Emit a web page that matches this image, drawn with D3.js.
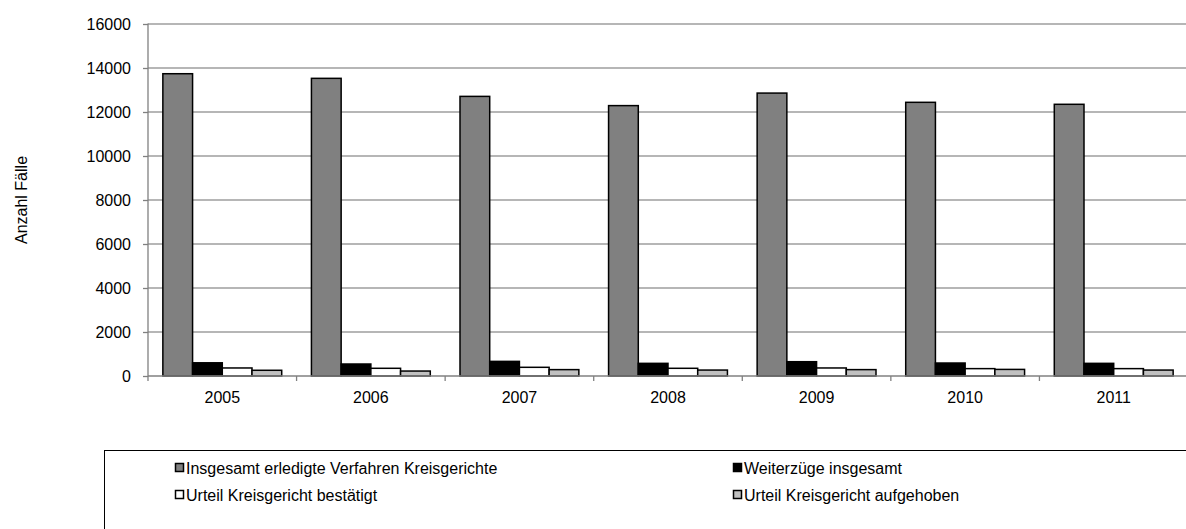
<!DOCTYPE html>
<html lang="de">
<head>
  <meta charset="UTF-8">
  <title>Anzahl Fälle</title>
  <script src="https://cdn.jsdelivr.net/npm/d3@7"></script>
  <style>
    body { margin: 0; background: #fff; }
    svg text { font-family: "Liberation Sans", Arial, sans-serif; fill: #000; }
  </style>
</head>
<body>
<div id="grafica"></div>
<script>
// data
jahre = ['2005', '2006', '2007', '2008', '2009', '2010', '2011']
insgesamt = [13740, 13530, 12710, 12290, 12860, 12440, 12350]
weiterzuege = [600, 545, 665, 575, 650, 590, 575]
bestaetigt = [365, 350, 395, 350, 365, 335, 335]
aufgehoben = [260, 225, 290, 270, 290, 300, 270]
serienNamen = ['Insgesamt erledigte Verfahren Kreisgerichte', 'Weiterzüge insgesamt',
               'Urteil Kreisgericht bestätigt', 'Urteil Kreisgericht aufgehoben']
farben = ['#808080', '#000000', '#ffffff', '#c0c0c0']
yTicks = [0, 2000, 4000, 6000, 8000, 10000, 12000, 14000, 16000]

serien = [insgesamt, weiterzuege, bestaetigt, aufgehoben]

ancho = 1186
alto = 529
links = 148, oben = 24, unten = 376, rechts = 1188

svg = d3.select('#grafica')
        .append('svg')
        .attr('width', ancho)
        .attr('height', alto)

x0 = d3.scaleBand()
       .domain(jahre)
       .range([links, rechts])
       .padding(0)
luecke = x0.bandwidth() * 0.1
x1 = d3.scaleBand()
       .domain(d3.range(serien.length))
       .range([luecke, x0.bandwidth() - luecke])
       .padding(0)
y = d3.scaleLinear()
      .domain([0, 16000])
      .range([unten, oben])

// gridlines
svg.append('g')
   .selectAll('line')
   .data(yTicks.slice(1))
   .enter()
   .append('line')
   .attr('x1', links).attr('x2', ancho)
   .attr('y1', d => y(d)).attr('y2', d => y(d))
   .attr('stroke', '#6e6e6e')
   .attr('stroke-width', 1.2)

// bars
gruppen = svg.append('g')
   .selectAll('g')
   .data(jahre)
   .enter()
   .append('g')
   .attr('transform', d => 'translate(' + x0(d) + ',0)')

gruppen.selectAll('rect')
   .data((d, i) => serien.map((s, k) => ({ k: k, v: s[i] })))
   .enter()
   .append('rect')
   .attr('x', d => x1(d.k))
   .attr('y', d => y(d.v))
   .attr('width', x1.bandwidth())
   .attr('height', d => y(0) - y(d.v))
   .attr('fill', d => farben[d.k])
   .attr('stroke', '#000')
   .attr('stroke-width', 1.5)

// y axis
yAxis = svg.append('g')
   .attr('transform', 'translate(' + links + ',0)')
   .call(d3.axisLeft(y).tickValues(yTicks).tickSize(5).tickPadding(12).tickFormat(d3.format('d')))
yAxis.selectAll('text').style('font-size', '16px')
yAxis.selectAll('line, path').attr('stroke', '#808080').attr('stroke-width', 1.3)
yAxis.select('.domain').attr('d', 'M0,' + (oben - 0.5) + 'V' + (unten + 5))

// x axis
xAxis = svg.append('g')
   .attr('transform', 'translate(0,' + unten + ')')
   .call(d3.axisBottom(x0).tickSize(0).tickPadding(16))
xAxis.selectAll('text').style('font-size', '16px')
xAxis.select('.domain').attr('d', 'M' + links + ',0H' + ancho).attr('stroke', '#808080').attr('stroke-width', 1.3)
xAxis.selectAll('.grenze')
   .data(jahre.slice(1))
   .enter()
   .append('line')
   .attr('x1', d => x0(d)).attr('x2', d => x0(d))
   .attr('y1', 0).attr('y2', 5)
   .attr('stroke', '#808080')
   .attr('stroke-width', 1.3)

// y title
svg.append('text')
   .attr('transform', 'translate(27,200) rotate(-90)')
   .attr('text-anchor', 'middle')
   .style('font-size', '16px')
   .text('Anzahl Fälle')

// legend
svg.append('rect')
   .attr('x', 104.5).attr('y', 450.5)
   .attr('width', 1100).attr('height', 100)
   .attr('fill', 'none')
   .attr('stroke', '#000')
   .attr('stroke-width', 1)

legPos = [[175, 468], [733, 468], [175, 495], [733, 495]]
legende = svg.append('g')
   .selectAll('g')
   .data(serienNamen)
   .enter()
   .append('g')
   .attr('transform', (d, i) => 'translate(' + legPos[i][0] + ',' + legPos[i][1] + ')')
legende.append('rect')
   .attr('x', 0.5).attr('y', -4.5)
   .attr('width', 8).attr('height', 8)
   .attr('fill', (d, i) => farben[i])
   .attr('stroke', '#000')
   .attr('stroke-width', 1.5)
legende.append('text')
   .attr('x', 11).attr('y', 6)
   .style('font-size', '16px')
   .text(d => d)
</script>
</body>
</html>
